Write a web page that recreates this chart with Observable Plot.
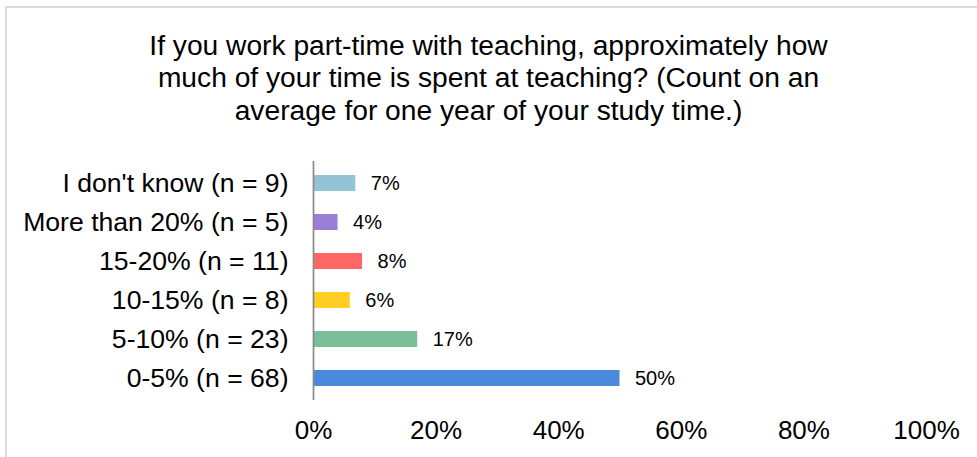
<!DOCTYPE html>
<html>
<head>
<meta charset="utf-8">
<script src="https://cdn.jsdelivr.net/npm/d3@7"></script>
<script src="https://cdn.jsdelivr.net/npm/@observablehq/plot@0.6"></script>
<style>
  html, body { margin: 0; padding: 0; background: #fff; overflow: hidden; }
  body { width: 977px; height: 457px; position: relative; font-family: "Liberation Sans", Arial, sans-serif; }
  #frame { position: absolute; left: 5px; top: 6px; width: 1000px; height: 500px; border: 2px solid #d9d9d9; box-sizing: border-box; }
  #title { position: absolute; left: 0; top: 28.5px; width: 977px; text-align: center; font-size: 28.2px; line-height: 32.5px; color: #000; }
  #chart { position: absolute; left: 0; top: 140px; }
</style>
</head>
<body>
<div id="frame"></div>
<div id="title">If you work part-time with teaching, approximately how<br>much of your time is spent at teaching? (Count on an<br>average for one year of your study time.)</div>
<div id="chart"></div>
<script>
const categories = ["I don't know (n = 9)", "More than 20% (n = 5)", "15-20% (n = 11)", "10-15% (n = 8)", "5-10% (n = 23)", "0-5% (n = 68)"];
const values = [6.9, 4.0, 8.0, 6.0, 17.0, 50.0];
const valueLabels = ["7%", "4%", "8%", "6%", "17%", "50%"];
const barColors = ["#93c4d6", "#9a7ed8", "#ff6767", "#ffd024", "#7bbf98", "#4a89dc"];
const xTicks = [0, 20, 40, 60, 80, 100];

const data = categories.map((c, i) => ({category: c, value: values[i], label: valueLabels[i], color: barColors[i]}));

const chart = Plot.plot({
  width: 977,
  height: 317,
  marginTop: 21,
  marginBottom: 57,
  marginLeft: 313,
  marginRight: 51,
  style: {fontFamily: '"Liberation Sans", Arial, sans-serif', color: "#000", background: "transparent"},
  x: {domain: [0, 100]},
  y: {domain: categories, paddingInner: 0.6, paddingOuter: 0.3},
  color: {type: "identity"},
  marks: [
    Plot.axisX({ticks: xTicks, tickSize: 0, tickPadding: 20, fontSize: 26, tickFormat: d => d + "%", label: null}),
    Plot.axisY({tickSize: 0, tickPadding: 25, fontSize: 26.6, label: null}),
    Plot.barX(data, {x: "value", y: "category", fill: d => d.color}),
    Plot.ruleX([0], {stroke: "#898989", strokeWidth: 1.7}),
    Plot.text(data, {x: "value", y: "category", text: "label", dx: 15, textAnchor: "start", fontSize: 20, fill: "#000"})
  ]
});
document.getElementById("chart").appendChild(chart);
</script>
</body>
</html>
